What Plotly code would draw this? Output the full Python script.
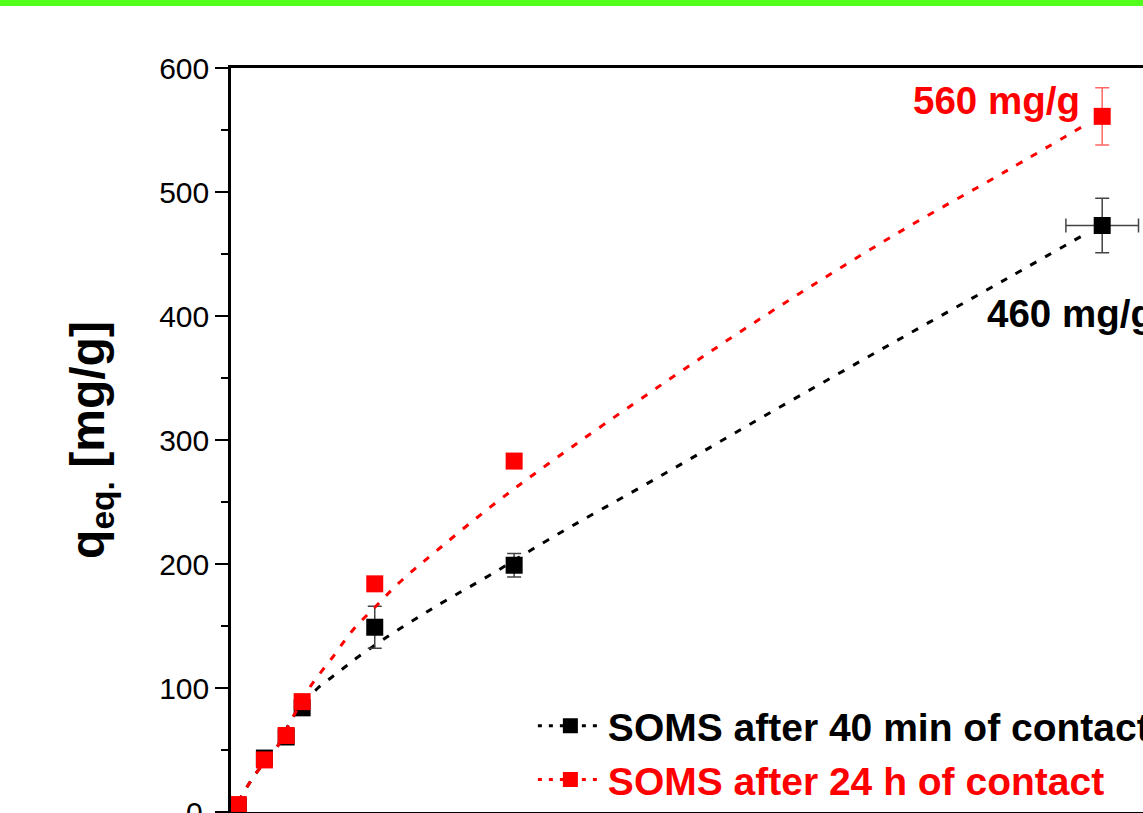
import plotly.graph_objects as go

# ---- data ----
x_conc = [5, 23, 38, 49, 99, 195, 600]
q_40min = [5, 43.5, 60.5, 84, 149, 199, 473]
q_40min_err = [0, 3, 2, 3, 17, 9.5, 22]
q_40min_xerr = [0, 0, 0, 0, 0, 0, 25]
q_24h = [6, 42, 61.7, 89, 184, 283, 561]
q_24h_err = [0, 0, 0, 0, 0, 0, 23]

fit40_x = [4.8, 11.0, 17.9, 31.7, 42.7, 52.3, 59.9, 69.6, 78.5, 87.5, 107.4, 128.1, 147.4,
           178.4, 218.3, 298.2, 378.1, 458.0, 535.1, 589.5]
fit40_y = [8.1, 20.2, 32.3, 52.4, 76.6, 90.3, 100.0, 108.9, 116.9, 125.0, 141.1, 156.5, 170.2,
           191.1, 219.4, 272.6, 326.6, 379.8, 430.6, 466.9]
fit24_x = [4.8, 11.0, 17.9, 31.7, 42.7, 54.4, 69.6, 84.0, 100.6, 116.4, 143.9, 180.4, 218.3,
           298.2, 378.1, 458.0, 535.1, 588.2]
fit24_y = [8.1, 20.2, 32.3, 52.4, 76.6, 100.8, 124.2, 146.8, 166.9, 185.5, 212.9, 247.6, 280.6,
           346.0, 408.1, 466.1, 517.7, 554.0]

names = ["SOMS after 40 min of contact", "SOMS after 24 h of contact"]
labels = ["560 mg/g", "460 mg/g"]

FONT = "Liberation Sans, Arial, sans-serif"
BLACK = "#000000"
RED = "#ff0000"
DASH = "7px,10px"

fig = go.Figure()

# black series
fig.add_trace(go.Scatter(x=fit40_x, y=fit40_y, mode="lines", line=dict(color=BLACK, width=3, dash=DASH, shape="spline"),
                         showlegend=False, hoverinfo="skip"))
fig.add_trace(go.Scatter(x=x_conc, y=q_40min, mode="markers",
                         marker=dict(symbol="square", size=17, color=BLACK),
                         error_y=dict(type="data", array=q_40min_err, color="#444444", thickness=1.5, width=7),
                         error_x=dict(type="data", array=q_40min_xerr, color="#444444", thickness=1.5, width=7),
                         showlegend=False))
# red series
fig.add_trace(go.Scatter(x=fit24_x, y=fit24_y, mode="lines", line=dict(color=RED, width=3, dash=DASH, shape="spline"),
                         showlegend=False, hoverinfo="skip"))
fig.add_trace(go.Scatter(x=x_conc, y=q_24h, mode="markers",
                         marker=dict(symbol="square", size=17, color=RED),
                         error_y=dict(type="data", array=q_24h_err, color="#ff6666", thickness=1.5, width=7),
                         showlegend=False))

# legend entries
fig.add_trace(go.Scatter(x=[None], y=[None], mode="lines+markers", name=names[0],
                         line=dict(color=BLACK, width=3, dash="4px,7px"),
                         marker=dict(symbol="square", size=15, color=BLACK)))
fig.add_trace(go.Scatter(x=[None], y=[None], mode="lines+markers",
                         name="<span style='color:#ff0000'>" + names[1] + "</span>",
                         line=dict(color=RED, width=3, dash="4px,7px"),
                         marker=dict(symbol="square", size=15, color=RED)))

fig.add_annotation(x=586, y=574, text="<b>" + labels[0] + "</b>", showarrow=False, xanchor="right", yanchor="middle",
                   font=dict(family=FONT, size=38.5, color=RED))
fig.add_annotation(x=519, y=402, text="<b>" + labels[1] + "</b>", showarrow=False, xanchor="left", yanchor="middle",
                   font=dict(family=FONT, size=38.5, color=BLACK))
# the "0" tick label that sits on the page's bottom edge
fig.add_annotation(xref="paper", x=-26 / 912, y=0, text="0", showarrow=False, xanchor="right", yanchor="middle",
                   font=dict(family=FONT, size=30, color=BLACK))

# green bar at top of the page
fig.add_shape(type="rect", xref="paper", yref="paper", x0=-0.3, x1=1.05, y0=1 + 62 / 744, y1=1 + 70 / 744,
              fillcolor="#52ff1a", line=dict(width=0), layer="above")

fig.update_layout(
    width=1143, height=813,
    margin=dict(l=231, r=0, t=68, b=1, autoexpand=False),
    paper_bgcolor="white", plot_bgcolor="white",
    font=dict(family=FONT, color=BLACK),
    showlegend=True,
    legend=dict(x=0.331, y=0.0, xanchor="left", yanchor="bottom", bgcolor="rgba(0,0,0,0)",
                font=dict(family=FONT, size=39, color=BLACK, weight="bold"),
                itemwidth=65, tracegroupgap=0),
    xaxis=dict(range=[0, 628.1], showgrid=False, zeroline=False, showline=True, linecolor=BLACK, linewidth=2.5,
               mirror=True, ticks="", showticklabels=False, automargin=False),
    yaxis=dict(range=[0, 600], showgrid=False, zeroline=False, showline=True, linecolor=BLACK, linewidth=2.5,
               mirror=False, ticks="outside", ticklen=13, tickwidth=2, tickcolor=BLACK, dtick=100,
               automargin=False,
               tickfont=dict(family=FONT, size=30, color=BLACK),
               minor=dict(ticks="outside", ticklen=7, tickwidth=2, tickcolor=BLACK, dtick=50),
               title=dict(text="<b>q<sub>eq.</sub> [mg/g]</b>", font=dict(family=FONT, size=48, color=BLACK),
                          standoff=40)),
)

fig.write_html("out.html")
